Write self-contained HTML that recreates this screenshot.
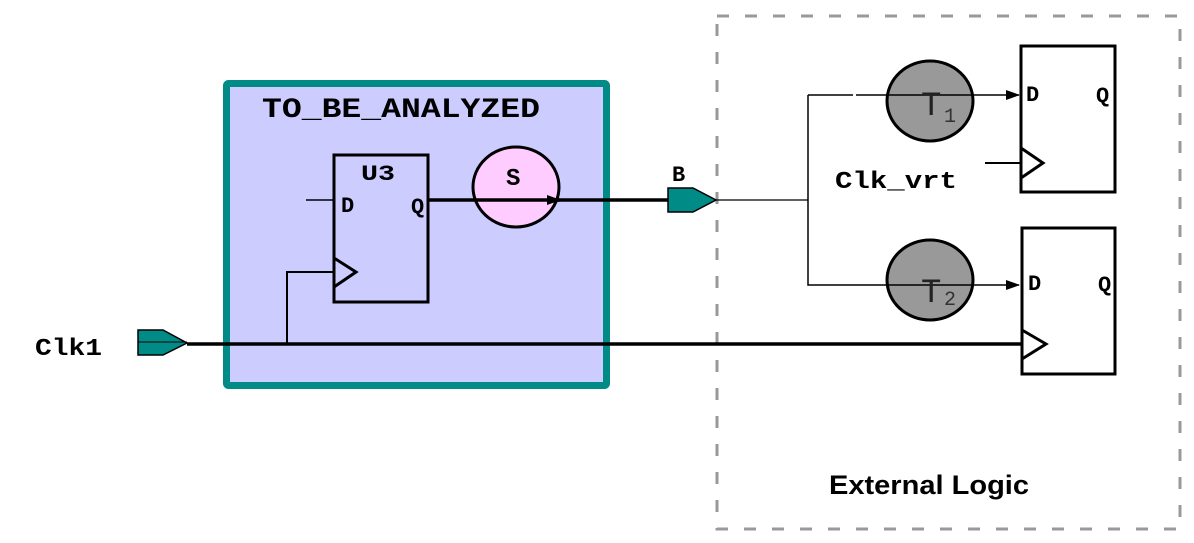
<!DOCTYPE html>
<html><head><meta charset="utf-8"><style>
html,body{margin:0;padding:0;background:#fff;width:1194px;height:543px;overflow:hidden}
text{font-family:"Liberation Mono",monospace;font-weight:bold}
</style></head><body>
<svg width="1194" height="543" viewBox="0 0 1194 543" xmlns="http://www.w3.org/2000/svg">
<defs><marker id="ar" markerWidth="14" markerHeight="10" refX="13" refY="5" orient="auto" markerUnits="userSpaceOnUse"><path d="M0,0 L14,5 L0,10 Z" fill="#000"/></marker></defs>
<rect x="717" y="16" width="463" height="513" fill="none" stroke="#999" stroke-width="3" stroke-dasharray="12,16"/>
<rect x="226.5" y="83.5" width="380" height="302" fill="#ccccff" stroke="#008b87" stroke-width="7" rx="2"/>
<text x="262" y="117" font-size="28" textLength="278" lengthAdjust="spacingAndGlyphs">TO_BE_ANALYZED</text>
<rect x="334" y="155" width="94" height="147" fill="none" stroke="#000" stroke-width="3"/>
<text x="361" y="180" font-size="22" textLength="34" lengthAdjust="spacingAndGlyphs">U3</text>
<text x="341" y="212" font-size="22">D</text>
<text x="411" y="213" font-size="22">Q</text>
<line x1="306" y1="200" x2="334" y2="200" stroke="#000" stroke-width="1.5"/>
<polyline points="334,258 356,272 334,287" fill="none" stroke="#000" stroke-width="3"/>
<polyline points="334,272 287,272 287,344" fill="none" stroke="#000" stroke-width="2"/>
<ellipse cx="516" cy="187" rx="43" ry="40" fill="#ffccff" stroke="#000" stroke-width="3"/>
<text x="506" y="185" font-size="24">S</text>
<line x1="428" y1="200" x2="560" y2="200" stroke="#000" stroke-width="3.5" marker-end="url(#ar)"/>
<line x1="555" y1="200" x2="670" y2="200" stroke="#000" stroke-width="3.5"/>
<polygon points="668,188 693,188 716,200 693,212 668,212" fill="#008b87" stroke="#000" stroke-width="1.5"/>
<text x="672" y="181" font-size="22">B</text>
<line x1="716" y1="200" x2="808" y2="200" stroke="#000" stroke-width="1.2"/>
<polyline points="808,200 808,95" fill="none" stroke="#000" stroke-width="1.5"/>
<line x1="808" y1="95" x2="853" y2="95" stroke="#000" stroke-width="1.5"/>
<ellipse cx="930" cy="101" rx="43" ry="40" fill="#999" stroke="#000" stroke-width="3"/>
<line x1="856" y1="95" x2="1019" y2="95" stroke="#000" stroke-width="1.5" marker-end="url(#ar)"/>
<text x="921" y="115" font-size="34" fill="#222" style="font-weight:normal">T</text>
<text x="944" y="122" font-size="20" fill="#333" style="font-weight:normal">1</text>
<ellipse cx="930" cy="280" rx="43" ry="40" fill="#999" stroke="#000" stroke-width="3"/>
<polyline points="808,200 808,285 1019,285" fill="none" stroke="#000" stroke-width="1.5" marker-end="url(#ar)"/>
<text x="921" y="302" font-size="34" fill="#222" style="font-weight:normal">T</text>
<text x="944" y="305" font-size="20" fill="#333" style="font-weight:normal">2</text>
<rect x="1021" y="46" width="94" height="146" fill="none" stroke="#000" stroke-width="3"/>
<text x="1026" y="101" font-size="22">D</text>
<text x="1096" y="102" font-size="22">Q</text>
<polyline points="1021,148 1043,163 1021,178" fill="none" stroke="#000" stroke-width="3"/>
<line x1="985" y1="163" x2="1021" y2="163" stroke="#000" stroke-width="2"/>
<text x="835" y="188" font-size="24" textLength="122" lengthAdjust="spacingAndGlyphs">Clk_vrt</text>
<rect x="1022" y="228" width="93" height="146" fill="none" stroke="#000" stroke-width="3"/>
<text x="1028" y="290" font-size="22">D</text>
<text x="1098" y="291" font-size="22">Q</text>
<polyline points="1022,330 1046,344 1022,359" fill="none" stroke="#000" stroke-width="3"/>
<polygon points="138,330 163,330 187,343 163,355 138,355" fill="#008b87" stroke="#000" stroke-width="1.5"/>
<line x1="138" y1="342" x2="187" y2="342" stroke="#000" stroke-width="1"/>
<text x="35" y="355" font-size="24" textLength="67" lengthAdjust="spacingAndGlyphs">Clk1</text>
<line x1="187" y1="344" x2="1022" y2="344" stroke="#000" stroke-width="3.5"/>
<text x="829" y="494" font-size="27" textLength="200" lengthAdjust="spacingAndGlyphs" style="font-family:'Liberation Sans',sans-serif;font-weight:bold">External Logic</text>
</svg>
</body></html>
